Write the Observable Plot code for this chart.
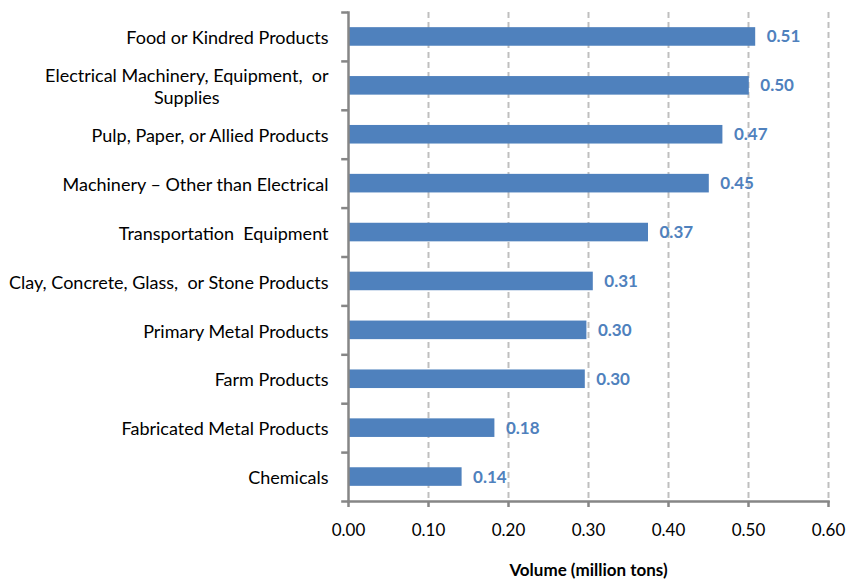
<!DOCTYPE html>
<html><head><meta charset="utf-8">
<script src="https://cdn.jsdelivr.net/npm/d3@7"></script>
<script src="https://cdn.jsdelivr.net/npm/@observablehq/plot@0.6"></script>
<style>body{margin:0;background:#fff}</style>
</head><body><div id="chart"></div>
<script>
const categories = [
  "Food or Kindred Products",
  "Electrical Machinery, Equipment,  or\nSupplies",
  "Pulp, Paper, or Allied Products",
  "Machinery – Other than Electrical",
  "Transportation  Equipment",
  "Clay, Concrete, Glass,  or Stone Products",
  "Primary Metal Products",
  "Farm Products",
  "Fabricated Metal Products",
  "Chemicals"
];
const values = [0.509, 0.501, 0.468, 0.451, 0.375, 0.306, 0.298, 0.296, 0.183, 0.142];
const valueLabels = ["0.51","0.50","0.47","0.45","0.37","0.31","0.30","0.30","0.18","0.14"];
const xTicks = [0, 0.1, 0.2, 0.3, 0.4, 0.5, 0.6];

const data = categories.map((c, i) => ({cat: c, v: values[i], label: valueLabels[i]}));

const W = 846, H = 579, mt = 12, mb = 78, ml = 348, mr = 18;
const step = (H - mt - mb) / categories.length;
const gray = "#868686";
const blue = "#4F81BD";
const font = "Lato, Calibri, sans-serif";

const plot = Plot.plot({
  width: W, height: H,
  marginTop: mt, marginBottom: mb, marginLeft: ml, marginRight: mr,
  style: {fontFamily: font, fontSize: "17px", color: "#000", background: "#fff"},
  x: {domain: [0, 0.6], label: null},
  y: {domain: categories, paddingInner: 0.62, paddingOuter: 0.31, round: false, label: null},
  marks: [
    Plot.gridX(xTicks.slice(1), {stroke: "#BFBFBF", strokeOpacity: 1, strokeWidth: 2, strokeDasharray: "6,4"}),
    Plot.barX(data, {y: "cat", x: "v", fill: blue}),
    Plot.text(data, {y: "cat", x: "v", text: "label", dx: 11, textAnchor: "start", fill: blue, fontWeight: "bold", fontSize: 17}),
    Plot.ruleY(categories, {y: d => d, x1: -0.0085, x2: 0, dy: -step / 2, stroke: gray, strokeWidth: 2.5}),
    Plot.ruleY([categories[categories.length - 1]], {y: d => d, x1: -0.0085, x2: 0, dy: step / 2, stroke: gray, strokeWidth: 2.5}),
    Plot.frame({anchor: "left", stroke: gray, strokeWidth: 2.5}),
    Plot.frame({anchor: "bottom", stroke: gray, strokeWidth: 2.5}),
    Plot.axisX({ticks: xTicks, tickFormat: d3.format(".2f"), tickSize: 6, tickPadding: 16, stroke: gray, strokeWidth: 2.5, fill: "#000", label: null}),
    Plot.axisX({ticks: [], tickSize: 0, label: "Volume (million tons)", labelAnchor: "center", labelArrow: "none", labelOffset: 74, fontWeight: "bold", fontSize: 17, fill: "#000"}),
    Plot.axisY({tickSize: 0, tickPadding: 20, lineHeight: 1.25, fontSize: 18, fill: "#000", label: null})
  ]
});
document.getElementById("chart").appendChild(plot);

// center the second line of the wrapped label under the first
plot.querySelectorAll("text").forEach(t => {
  const spans = t.querySelectorAll("tspan");
  if (spans.length === 2) {
    const w1 = spans[0].getComputedTextLength();
    t.setAttribute("text-anchor", "middle");
    spans.forEach(s => s.setAttribute("x", -w1 / 2));
  }
});
</script>
</body></html>
